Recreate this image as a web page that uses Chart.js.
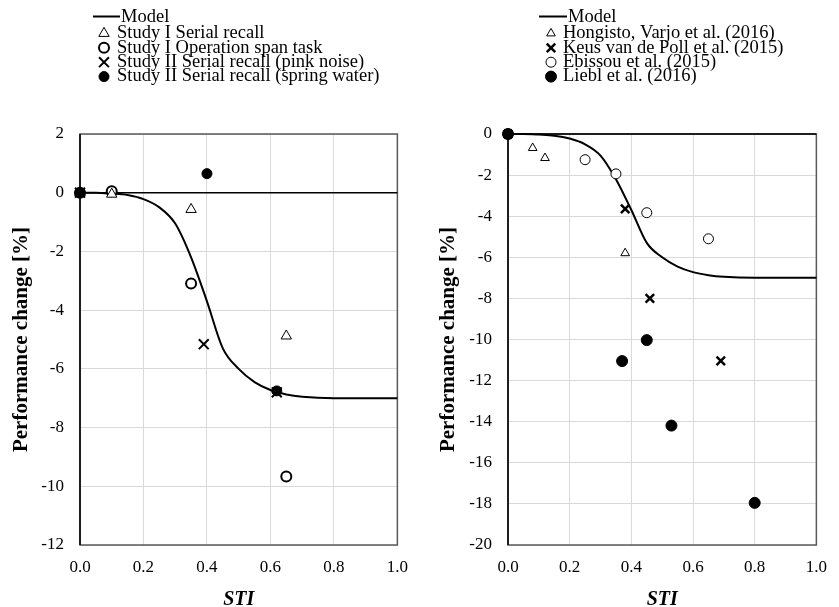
<!DOCTYPE html>
<html>
<head>
<meta charset="utf-8">
<script src="https://cdn.jsdelivr.net/npm/chart.js"></script>
<style>
body { margin: 0; background: #fff; }
#wrap { position: relative; width: 839px; height: 607px; }
.panel { position: absolute; top: 0; height: 607px; }
</style>
</head>
<body>
<div id="wrap">
  <div class="panel" style="left:0;width:420px"><canvas id="chartA" width="420" height="607"></canvas></div>
  <div class="panel" style="left:420px;width:419px"><canvas id="chartB" width="419" height="607"></canvas></div>
</div>
<script>
// model curve (same in both panels)
const modelSti = [0, 0.05, 0.1, 0.15, 0.2, 0.25, 0.3, 0.35, 0.4, 0.45, 0.5, 0.55, 0.6, 0.65, 0.7, 0.8, 0.9, 1.0];
const modelChange = [0, 0, -0.03, -0.08, -0.22, -0.5, -1.05, -2.2, -3.7, -5.3, -6.0, -6.45, -6.72, -6.87, -6.95, -7.0, -7.0, -7.0];

// left panel
const s1SerialSti = [0, 0.1, 0.35, 0.65];
const s1SerialChange = [0, -0.05, -0.57, -4.88];
const s1OspanSti = [0, 0.1, 0.35, 0.65];
const s1OspanChange = [0, 0.05, -3.09, -9.67];
const s2PinkSti = [0, 0.39, 0.62];
const s2PinkChange = [0, -5.16, -6.8];
const s2WaterSti = [0, 0.4, 0.62];
const s2WaterChange = [0, 0.65, -6.75];

// right panel
const hongistoSti = [0, 0.08, 0.12, 0.38];
const hongistoChange = [0, -0.68, -1.17, -5.8];
const keusSti = [0, 0.38, 0.46, 0.69];
const keusChange = [0, -3.64, -8.0, -11.04];
const ebissouSti = [0, 0.25, 0.35, 0.45, 0.65];
const ebissouChange = [0, -1.25, -1.94, -3.83, -5.1];
const lieblSti = [0, 0.37, 0.45, 0.53, 0.8];
const lieblChange = [0, -11.05, -10.03, -14.19, -17.95];

const stiTicks = [0, 0.2, 0.4, 0.6, 0.8, 1.0];

const serif = "'Liberation Serif', 'Times New Roman', serif";

function pts(xs, ys) {
    return xs.map((x, i) => ({ x: x, y: ys[i] }));
}

function modelSet() {
    return {
        label: 'Model',
        type: 'line',
        data: pts(modelSti, modelChange),
        borderColor: '#000',
        borderWidth: 2,
        pointRadius: 0,
        cubicInterpolationMode: 'monotone',
        fill: false,
        order: 10,
        clip: false
    };
}

function markerSet(label, xs, ys, style, radius, lw, filled, order) {
    return {
        label: label,
        data: pts(xs, ys),
        pointStyle: style,
        pointRadius: radius,
        pointHoverRadius: radius,
        pointBorderWidth: lw,
        borderColor: '#000',
        backgroundColor: filled ? '#000' : '#fff',
        showLine: false,
        order: order,
        clip: false
    };
}

function drawMarker(ctx, ds, x, y) {
    const r = ds.pointRadius, style = ds.pointStyle;
    ctx.save();
    ctx.lineWidth = ds.pointBorderWidth;
    ctx.strokeStyle = '#000';
    ctx.fillStyle = ds.backgroundColor;
    ctx.beginPath();
    if (style === 'triangle') {
        ctx.moveTo(x, y - r);
        ctx.lineTo(x + r * 0.866, y + r * 0.5);
        ctx.lineTo(x - r * 0.866, y + r * 0.5);
        ctx.closePath();
        ctx.fill(); ctx.stroke();
    } else if (style === 'crossRot') {
        const d = r * 0.707;
        ctx.moveTo(x - d, y - d); ctx.lineTo(x + d, y + d);
        ctx.moveTo(x + d, y - d); ctx.lineTo(x - d, y + d);
        ctx.stroke();
    } else {
        ctx.arc(x, y, r, 0, Math.PI * 2);
        ctx.fill(); ctx.stroke();
    }
    ctx.restore();
}

// legend drawn in the space above the plot
function keyPlugin(pos) {
    return {
        id: 'keyList',
        afterDraw(chart) {
            const ctx = chart.ctx;
            ctx.save();
            ctx.font = '18.5px ' + serif;
            ctx.fillStyle = '#000';
            ctx.textBaseline = 'middle';
            chart.data.datasets.forEach((ds, i) => {
                const y = i === 0 ? pos.rowY - 1.5 : pos.rowY + i * pos.step;
                if (ds.type === 'line') {
                    ctx.strokeStyle = '#000';
                    ctx.lineWidth = 2;
                    ctx.beginPath();
                    ctx.moveTo(pos.lineX1, y - 1);
                    ctx.lineTo(pos.lineX2, y - 1);
                    ctx.stroke();
                    ctx.fillText(ds.label, pos.lineX2 + 1, y);
                } else {
                    drawMarker(ctx, ds, pos.markX, y);
                    ctx.fillText(ds.label, pos.textX, y);
                }
            });
            ctx.restore();
        }
    };
}

const framePlugin = {
    id: 'frame',
    beforeDatasetsDraw(chart) {
        const ctx = chart.ctx, a = chart.chartArea;
        ctx.save();
        ctx.strokeStyle = '#595959';
        ctx.lineWidth = 1.5;
        ctx.strokeRect(a.left, a.top, a.right - a.left, a.bottom - a.top);
        ctx.strokeStyle = '#000';
        ctx.beginPath();
        ctx.moveTo(a.left, a.top);
        ctx.lineTo(a.left, a.bottom);
        const y0 = chart.scales.y.getPixelForValue(0);
        ctx.moveTo(a.left, y0);
        ctx.lineTo(a.right, y0);
        ctx.stroke();
        ctx.restore();
    }
};

function makeChart(id, datasets, yMin, yMax, pad, yWidth, key) {
    new Chart(document.getElementById(id), {
        type: 'scatter',
        data: { datasets: datasets },
        options: {
            responsive: false,
            animation: false,
            devicePixelRatio: 1,
            layout: { autoPadding: false, padding: pad },
            plugins: { legend: { display: false }, tooltip: { enabled: false } },
            scales: {
                x: {
                    type: 'linear',
                    min: 0, max: 1,
                    afterBuildTicks: (s) => { s.ticks = stiTicks.map(v => ({ value: v })); },
                    afterFit: (s) => { s.height = 65; },
                    grid: { color: '#d9d9d9', lineWidth: 1, drawTicks: false },
                    border: { display: false },
                    ticks: {
                        padding: 12,
                        color: '#000',
                        font: { family: serif, size: 17 },
                        callback: (v) => Number(v).toFixed(1)
                    },
                    title: {
                        display: true,
                        text: 'STI',
                        color: '#000',
                        padding: 0,
                        font: { family: serif, size: 20, weight: 'bold', style: 'italic', lineHeight: 1.0 }
                    }
                },
                y: {
                    min: yMin, max: yMax,
                    afterFit: (s) => { s.width = yWidth; },
                    grid: { color: '#d9d9d9', lineWidth: 1, drawTicks: false },
                    border: { display: false },
                    ticks: {
                        stepSize: 2,
                        padding: 16,
                        color: '#000',
                        font: { family: serif, size: 17 }
                    },
                    title: {
                        display: true,
                        text: 'Performance change [%]',
                        color: '#000',
                        padding: 0,
                        font: { family: serif, size: 21, weight: 'bold', lineHeight: 1.0 }
                    }
                }
            }
        },
        plugins: [framePlugin, keyPlugin(key)]
    });
}

makeChart('chartA', [
    modelSet(),
    markerSet('Study I Serial recall', s1SerialSti, s1SerialChange, 'triangle', 6, 1, false, 2),
    markerSet('Study I Operation span task', s1OspanSti, s1OspanChange, 'circle', 5, 2, false, 2),
    markerSet('Study II Serial recall (pink noise)', s2PinkSti, s2PinkChange, 'crossRot', 7, 2, false, 0),
    markerSet('Study II Serial recall (spring water)', s2WaterSti, s2WaterChange, 'circle', 5, 1, true, 1)
], -12, 2, { top: 134, left: 11, right: 21, bottom: -3 }, 69,
    { rowY: 19, step: 14.4, lineX1: 93, lineX2: 120, markX: 104, textX: 117 });

makeChart('chartB', [
    modelSet(),
    markerSet('Hongisto, Varjo et al. (2016)', hongistoSti, hongistoChange, 'triangle', 5, 1, false, 2),
    markerSet('Keus van de Poll et al. (2015)', keusSti, keusChange, 'crossRot', 6, 2.5, false, 1),
    markerSet('Ebissou et al. (2015)', ebissouSti, ebissouChange, 'circle', 5, 1, false, 2),
    markerSet('Liebl et al. (2016)', lieblSti, lieblChange, 'circle', 5.5, 1, true, 0)
], -20, 0, { top: 134, left: 18, right: 12, bottom: -3 }, 70,
    { rowY: 19, step: 14.4, lineX1: 119, lineX2: 147, markX: 131, textX: 143 });
</script>
</body>
</html>
